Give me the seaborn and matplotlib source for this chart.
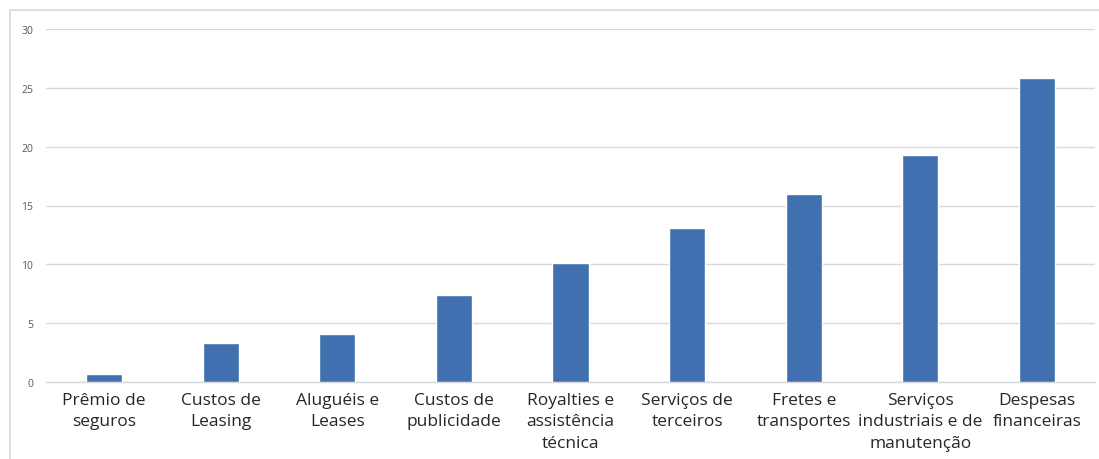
import matplotlib
matplotlib.use("Agg")
import matplotlib.pyplot as plt
from matplotlib.lines import Line2D
import seaborn as sns
import pandas as pd

# Categories and values (bilhões)
categorias = [
    "Prêmio de\nseguros",
    "Custos de\nLeasing",
    "Aluguéis e\nLeases",
    "Custos de\npublicidade",
    "Royalties e\nassistência\ntécnica",
    "Serviços de\nterceiros",
    "Fretes e\ntransportes",
    "Serviços\nindustriais e de\nmanutenção",
    "Despesas\nfinanceiras",
]
valores = [0.7, 3.3, 4.1, 7.4, 10.1, 13.1, 16.0, 19.3, 25.8]
y_ticks = [0, 5, 10, 15, 20, 25, 30]

df = pd.DataFrame({"categoria": categorias, "valor": valores})

sns.set_theme(style="white")
plt.rcParams["font.family"] = ["Open Sans", "DejaVu Sans"]

W, H = 1099, 460
fig = plt.figure(figsize=(W / 100, H / 100), dpi=100)
fig.patch.set_facecolor("white")

left, right = 45.7, 1095.3
y0_px, y30_px = 383.3, 29.7
ax = fig.add_axes([left / W, (H - y0_px) / H, (right - left) / W, (y0_px - y30_px) / H])

sns.barplot(data=df, x="categoria", y="valor", color="#4170B0", saturation=1,
            width=0.31, ax=ax, zorder=3)

ax.set_ylim(0, 30)
ax.set_yticks(y_ticks)
ax.set_yticklabels([str(t) for t in y_ticks])
ax.yaxis.grid(True, color="#d9d9d9", linewidth=1.0, zorder=0)
ax.set_axisbelow(True)
for s in ["top", "right", "left"]:
    ax.spines[s].set_visible(False)
ax.spines["bottom"].set_color("#d9d9d9")
ax.spines["bottom"].set_linewidth(1.0)
ax.tick_params(axis="y", length=0, pad=9, labelsize=7.5, labelcolor="#595959")
ax.tick_params(axis="x", length=0, pad=7, labelsize=12.5, labelcolor="#262626")
for lbl in ax.get_xticklabels():
    lbl.set_linespacing(1.45)
ax.set_xlabel("")
ax.set_ylabel("")

# Chart-area frame (top and left edges)
fx = 10 / W
fy = (H - 11) / H
fig.add_artist(Line2D([fx, 1], [fy, fy], transform=fig.transFigure,
                      color="#d9d9d9", linewidth=1.2))
fig.add_artist(Line2D([fx, fx], [0, fy], transform=fig.transFigure,
                      color="#d9d9d9", linewidth=1.2))

fig.savefig("out.png", dpi=100, facecolor="white")
